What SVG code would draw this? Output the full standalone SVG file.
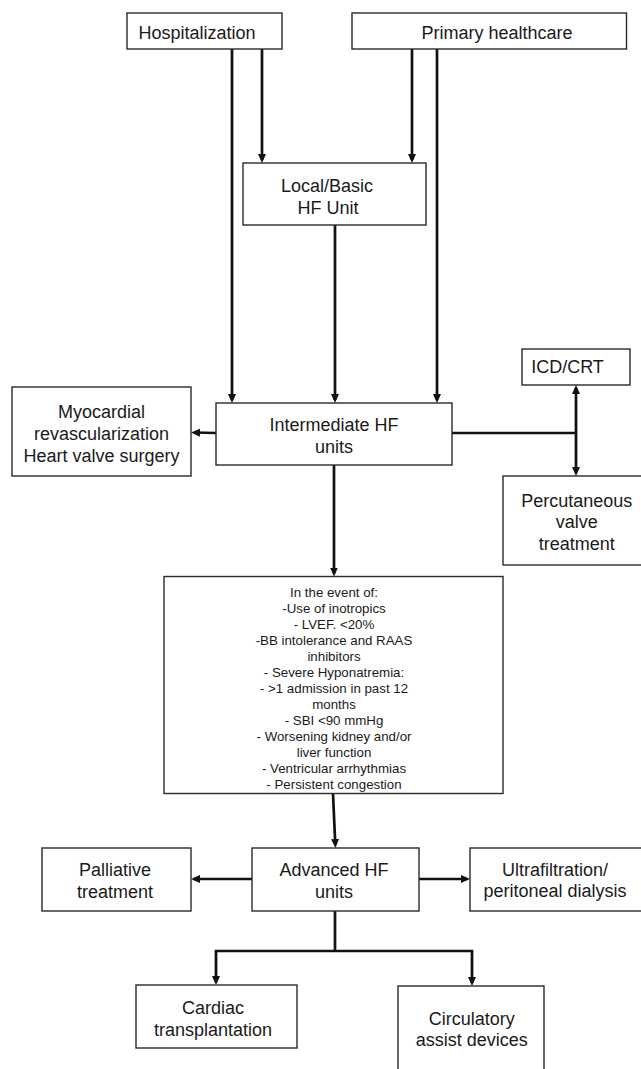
<svg xmlns="http://www.w3.org/2000/svg" width="641" height="1069" viewBox="0 0 641 1069">
<style>
  .box { fill: #ffffff; stroke: #2a2a2a; stroke-width: 1.4; }
  .t { font-family: "Liberation Sans", Arial, sans-serif; font-size: 18px; fill: #1a1a1a; text-anchor: middle; }
  .s { font-family: "Liberation Sans", Arial, sans-serif; font-size: 13.3px; fill: #1a1a1a; text-anchor: middle; }
  .c { fill: none; stroke: #111111; stroke-width: 2.7; }
</style>
<defs>
  <marker id="arr" markerUnits="userSpaceOnUse" viewBox="0 0 9 9" markerWidth="9" markerHeight="9" refX="6" refY="4.5" orient="auto">
    <path d="M0,0.5 L9,4.5 L0,8.5 z" fill="#111111"/>
  </marker>
</defs>
<rect width="641" height="1069" fill="#ffffff"/>

<g id="connectors">
  <line class="c" x1="232" y1="49" x2="232" y2="400" marker-end="url(#arr)"/>
  <line class="c" x1="262" y1="49" x2="262" y2="160" marker-end="url(#arr)"/>
  <line class="c" x1="412" y1="49" x2="412" y2="160" marker-end="url(#arr)"/>
  <line class="c" x1="437" y1="49" x2="437" y2="400" marker-end="url(#arr)"/>
  <line class="c" x1="335" y1="225" x2="335" y2="400" marker-end="url(#arr)"/>
  <line class="c" x1="216" y1="433" x2="194" y2="432.5" marker-end="url(#arr)"/>
  <line class="c" x1="452" y1="433" x2="576" y2="433"/>
  <line class="c" x1="576" y1="433" x2="576" y2="388" marker-end="url(#arr)"/>
  <line class="c" x1="576" y1="433" x2="576" y2="473" marker-end="url(#arr)"/>
  <line class="c" x1="334" y1="465" x2="334" y2="573.5" marker-end="url(#arr)"/>
  <line class="c" x1="333" y1="794" x2="335.3" y2="845" marker-end="url(#arr)"/>
  <line class="c" x1="252" y1="879" x2="194" y2="879" marker-end="url(#arr)"/>
  <line class="c" x1="419" y1="879" x2="467" y2="879" marker-end="url(#arr)"/>
  <line class="c" x1="335" y1="911" x2="335" y2="951"/>
  <line class="c" x1="214.7" y1="951" x2="473.3" y2="951"/>
  <line class="c" x1="216" y1="951" x2="216" y2="982" marker-end="url(#arr)"/>
  <line class="c" x1="472" y1="951" x2="472" y2="983" marker-end="url(#arr)"/>
</g>

<g id="hospitalization">
  <rect class="box" x="127" y="13" width="155" height="36"/>
  <text class="t" x="197" y="38.5">Hospitalization</text>
</g>
<g id="primary-healthcare">
  <rect class="box" x="352" y="13" width="274.5" height="36"/>
  <text class="t" x="497" y="38.5">Primary healthcare</text>
</g>
<g id="local-basic">
  <rect class="box" x="243" y="163" width="183" height="62"/>
  <text class="t" x="327" y="191.5">Local/Basic</text>
  <text class="t" x="328" y="213.8">HF Unit</text>
</g>
<g id="intermediate">
  <rect class="box" x="216" y="403" width="236" height="62"/>
  <text class="t" x="334" y="430.5">Intermediate HF</text>
  <text class="t" x="334" y="452.5">units</text>
</g>
<g id="myocardial">
  <rect class="box" x="12" y="387" width="179" height="89"/>
  <text class="t" x="101.5" y="417.5">Myocardial</text>
  <text class="t" x="101.5" y="439.8">revascularization</text>
  <text class="t" x="101.5" y="462">Heart valve surgery</text>
</g>
<g id="icd-crt">
  <rect class="box" x="522" y="349" width="108" height="36"/>
  <text class="t" x="567.5" y="373">ICD/CRT</text>
</g>
<g id="percutaneous">
  <rect class="box" x="503" y="476" width="145" height="89"/>
  <text class="t" x="576.7" y="506.5">Percutaneous</text>
  <text class="t" x="576.7" y="528">valve</text>
  <text class="t" x="576.7" y="549.5">treatment</text>
</g>
<g id="criteria">
  <rect class="box" x="164" y="576.5" width="339" height="217"/>
  <text class="s" x="334" y="596.5">In the event of:</text>
  <text class="s" x="334" y="612.5">-Use of inotropics</text>
  <text class="s" x="334" y="628.5">- LVEF. &lt;20%</text>
  <text class="s" x="334" y="644.5">-BB intolerance and RAAS</text>
  <text class="s" x="334" y="660.5">inhibitors</text>
  <text class="s" x="334" y="676.5">- Severe Hyponatremia:</text>
  <text class="s" x="334" y="692.5">- &gt;1 admission in past 12</text>
  <text class="s" x="334" y="708.5">months</text>
  <text class="s" x="334" y="724.5">- SBI &lt;90 mmHg</text>
  <text class="s" x="334" y="740.5">- Worsening kidney and/or</text>
  <text class="s" x="334" y="756.5">liver function</text>
  <text class="s" x="334" y="772.5">- Ventricular arrhythmias</text>
  <text class="s" x="334" y="788.5">- Persistent congestion</text>
</g>
<g id="palliative">
  <rect class="box" x="42" y="848" width="149" height="63"/>
  <text class="t" x="115" y="875.8">Palliative</text>
  <text class="t" x="115" y="897.5">treatment</text>
</g>
<g id="advanced">
  <rect class="box" x="252" y="848" width="167" height="63"/>
  <text class="t" x="334" y="876">Advanced HF</text>
  <text class="t" x="334" y="898">units</text>
</g>
<g id="ultrafiltration">
  <rect class="box" x="470" y="848" width="175" height="63"/>
  <text class="t" x="555" y="875.5">Ultrafiltration/</text>
  <text class="t" x="555" y="897">peritoneal dialysis</text>
</g>
<g id="cardiac-transplantation">
  <rect class="box" x="136" y="985" width="161" height="63"/>
  <text class="t" x="213" y="1013.8">Cardiac</text>
  <text class="t" x="213" y="1035.5">transplantation</text>
</g>
<g id="circulatory-assist">
  <rect class="box" x="398" y="986" width="146" height="100"/>
  <text class="t" x="471.7" y="1024.8">Circulatory</text>
  <text class="t" x="471.7" y="1046">assist devices</text>
</g>
</svg>
